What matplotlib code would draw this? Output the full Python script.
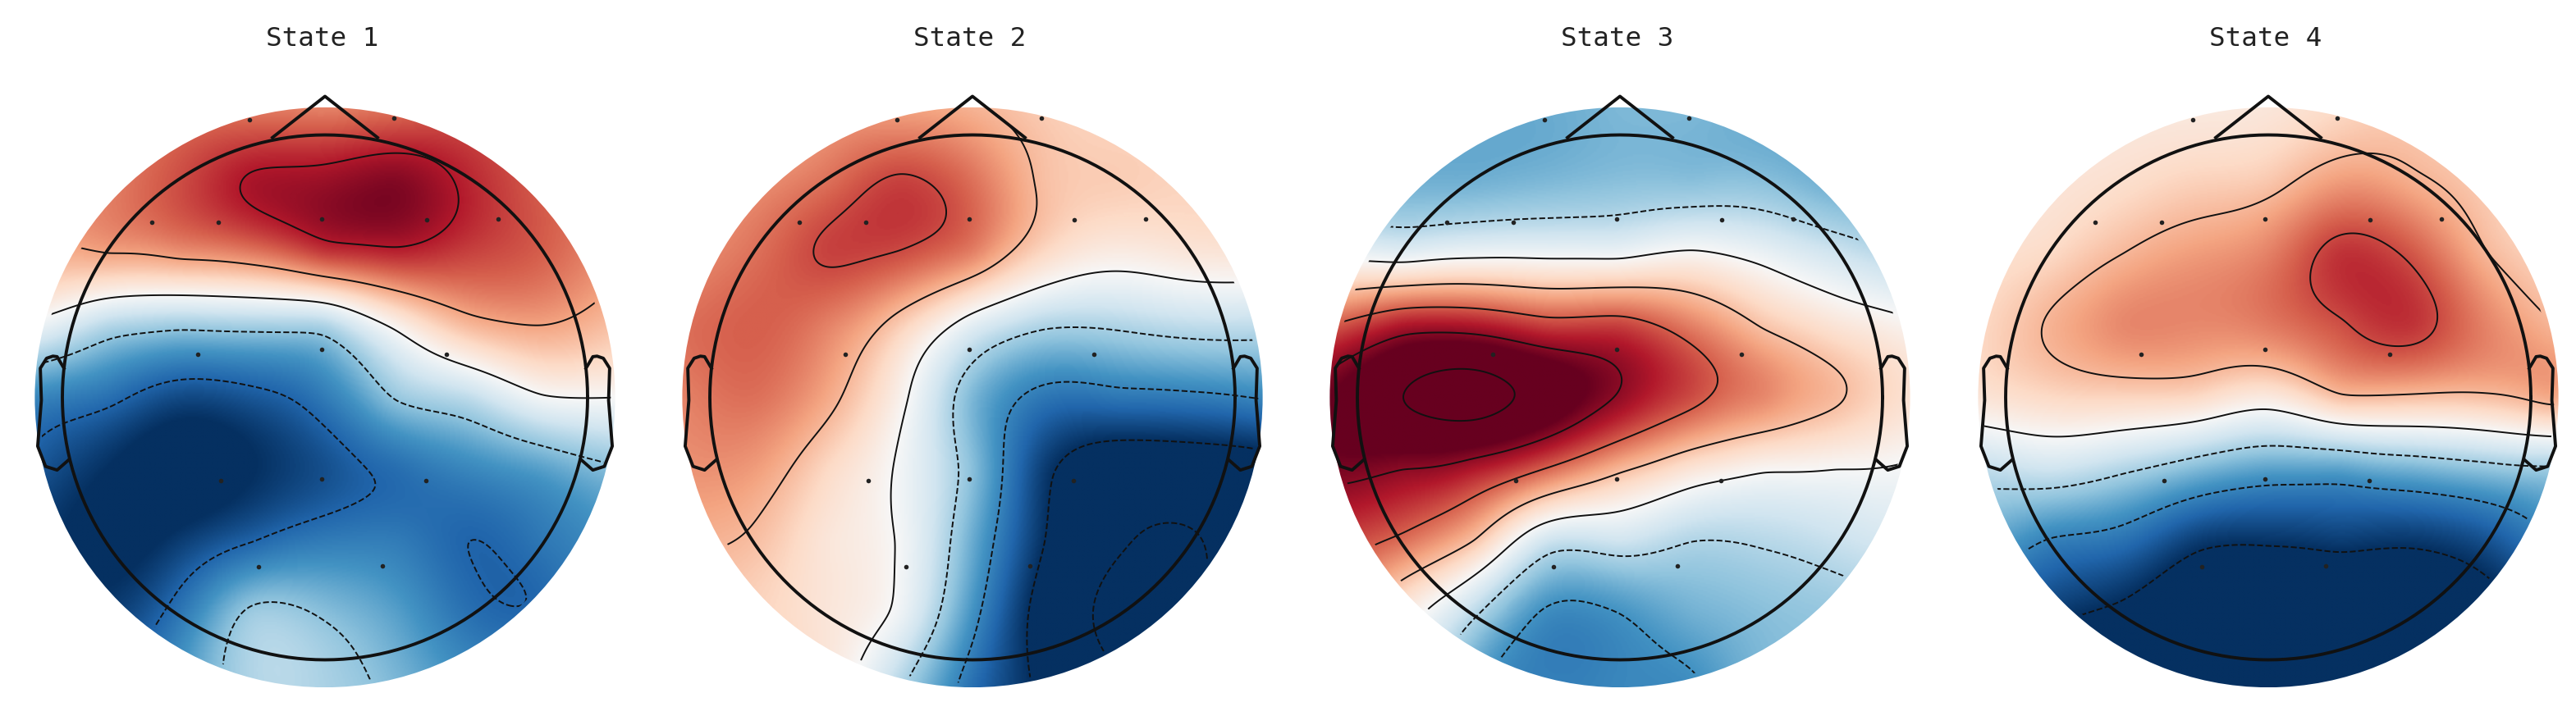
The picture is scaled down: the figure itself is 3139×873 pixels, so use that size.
import matplotlib
matplotlib.use("Agg")
import matplotlib.pyplot as plt
import numpy as np
from matplotlib.patches import Circle

WIDTH, HEIGHT = 3139, 873
TITLES = ["State 1", "State 2", "State 3", "State 4"]
CENTERS_X = [396, 1185, 1974, 2764]
CENTER_Y = 484.5
RADIUS_X, RADIUS_Y = 320, 320
SCALP_R = 1.105

SENSOR_X = [-0.288, 0.264, -0.66, -0.405, -0.011, 0.389, 0.659, -0.483, -0.011, 0.464,
            -0.397, -0.013, 0.384, -0.253, 0.219]
SENSOR_Y = [1.057, 1.064, 0.668, 0.668, 0.68, 0.677, 0.68, 0.165, 0.183, 0.165,
            -0.317, -0.31, -0.317, -0.645, -0.643]

GRID_X = [-1.1, -0.825, -0.55, -0.275, 0.0, 0.275, 0.55, 0.825, 1.1]
GRID_Y = [1.1, 0.825, 0.55, 0.275, 0.0, -0.275, -0.55, -0.825, -1.1]

STATE_1 = [
    [0.35, 0.45, 0.52, 0.52, 0.50, 0.55, 0.60, 0.55, 0.45],
    [0.40, 0.50, 0.65, 0.82, 0.86, 0.92, 0.76, 0.60, 0.50],
    [0.35, 0.40, 0.45, 0.52, 0.70, 0.76, 0.68, 0.60, 0.45],
    [-0.05, -0.28, -0.35, -0.33, -0.30, 0.05, 0.33, 0.40, 0.30],
    [-0.65, -0.75, -0.90, -0.85, -0.70, -0.38, -0.25, -0.02, 0.00],
    [-0.85, -1.00, -1.10, -1.00, -0.88, -0.76, -0.65, -0.55, -0.42],
    [-0.95, -1.05, -0.95, -0.80, -0.70, -0.70, -0.80, -0.72, -0.60],
    [-0.90, -0.95, -0.72, -0.36, -0.42, -0.55, -0.75, -0.78, -0.60],
    [-0.85, -0.80, -0.58, -0.30, -0.32, -0.45, -0.60, -0.60, -0.55],
]
STATE_2 = [
    [0.25, 0.30, 0.40, 0.40, 0.35, 0.25, 0.20, 0.20, 0.15],
    [0.40, 0.45, 0.55, 0.68, 0.55, 0.30, 0.25, 0.22, 0.20],
    [0.45, 0.55, 0.68, 0.65, 0.50, 0.20, 0.08, 0.12, 0.12],
    [0.55, 0.60, 0.50, 0.25, -0.10, -0.30, -0.30, -0.25, -0.25],
    [0.50, 0.55, 0.38, 0.05, -0.45, -0.72, -0.72, -0.70, -0.65],
    [0.45, 0.42, 0.20, -0.03, -0.42, -0.95, -1.15, -1.15, -1.10],
    [0.35, 0.30, 0.12, -0.02, -0.50, -1.00, -1.30, -1.35, -1.20],
    [0.25, 0.22, 0.12, -0.05, -0.60, -1.10, -1.40, -1.35, -1.20],
    [0.20, 0.20, 0.10, -0.30, -0.75, -1.05, -1.30, -1.30, -1.20],
]
STATE_3 = [
    [-0.50, -0.50, -0.50, -0.50, -0.45, -0.45, -0.50, -0.50, -0.50],
    [-0.45, -0.48, -0.48, -0.45, -0.42, -0.42, -0.42, -0.50, -0.50],
    [-0.05, -0.10, -0.05, -0.05, -0.05, 0.02, -0.07, -0.20, -0.30],
    [0.60, 0.80, 0.80, 0.68, 0.68, 0.50, 0.28, 0.13, 0.03],
    [1.00, 1.20, 1.28, 1.12, 0.88, 0.65, 0.48, 0.32, 0.15],
    [0.95, 0.90, 0.80, 0.58, 0.33, 0.13, 0.02, 0.00, -0.02],
    [0.70, 0.55, 0.28, -0.20, -0.20, -0.30, -0.28, -0.22, -0.15],
    [0.50, 0.10, -0.28, -0.63, -0.60, -0.48, -0.42, -0.38, -0.30],
    [0.30, 0.05, -0.55, -0.68, -0.65, -0.62, -0.45, -0.40, -0.30],
]
STATE_4 = [
    [0.15, 0.12, 0.10, 0.10, 0.12, 0.20, 0.25, 0.20, 0.15],
    [0.12, 0.13, 0.17, 0.23, 0.27, 0.42, 0.36, 0.25, 0.15],
    [0.15, 0.20, 0.33, 0.42, 0.50, 0.72, 0.62, 0.34, 0.20],
    [0.20, 0.35, 0.48, 0.48, 0.52, 0.64, 0.72, 0.50, 0.33],
    [0.13, 0.20, 0.22, 0.20, 0.10, 0.30, 0.30, 0.30, 0.38],
    [-0.25, -0.20, -0.30, -0.44, -0.54, -0.54, -0.47, -0.40, -0.35],
    [-0.50, -0.68, -0.75, -0.95, -0.98, -0.95, -0.97, -0.88, -0.65],
    [-0.80, -0.95, -1.05, -1.20, -1.25, -1.25, -1.20, -1.10, -0.95],
    [-1.00, -1.20, -1.30, -1.30, -1.30, -1.30, -1.30, -1.20, -1.10],
]
STATES = [STATE_1, STATE_2, STATE_3, STATE_4]

LEVELS_1 = [-0.8, -0.4, 0.0, 0.4, 0.8]
LEVELS_2 = [-1.33, -1.0, -0.66, -0.33, 0.0, 0.33, 0.66]
LEVELS_3 = [-0.6, -0.3, 0.0, 0.3, 0.6, 0.9, 1.2]
LEVELS_4 = [-1.0, -0.66, -0.33, 0.0, 0.33, 0.66]
LEVELS = [LEVELS_1, LEVELS_2, LEVELS_3, LEVELS_4]

EAR_X = [0.994, 1.02, 1.036, 1.06, 1.084, 1.08, 1.094, 1.064, 1.02, 0.978]
EAR_Y = [0.111, 0.155, 0.157, 0.149, 0.111, -0.011, -0.186, -0.263, -0.277, -0.24]
NOSE_X = [-0.2, 0.0, 0.2]
NOSE_Y = [0.99, 1.147, 0.99]


def tps_kernel(r):
    out = np.zeros_like(r)
    mask = r > 0
    out[mask] = r[mask] ** 2 * np.log(r[mask])
    return out


def smooth_field(values, xx, yy):
    # thin plate spline through the values
    px, py = np.meshgrid(GRID_X, GRID_Y)
    px, py, v = px.ravel(), py.ravel(), np.asarray(values, dtype=float).ravel()
    n = len(v)
    K = tps_kernel(np.hypot(px[:, None] - px[None, :], py[:, None] - py[None, :]))
    P = np.column_stack((np.ones(n), px, py))
    A = np.block([[K, P], [P.T, np.zeros((3, 3))]])
    w = np.linalg.solve(A, np.concatenate((v, np.zeros(3))))
    r = np.hypot(xx[..., None] - px, yy[..., None] - py)
    return tps_kernel(r) @ w[:n] + w[n] + w[n + 1] * xx + w[n + 2] * yy


def draw_head(ax):
    theta = np.linspace(0, 2 * np.pi, 361)
    style = dict(color="#111111", lw=2.8, clip_on=False, zorder=5)
    ax.plot(np.cos(theta), np.sin(theta), **style)
    ax.plot(NOSE_X, NOSE_Y, **style)
    ax.plot(EAR_X, EAR_Y, **style)
    ax.plot(-np.asarray(EAR_X), EAR_Y, **style)


def draw_state(fig, index):
    half_x, half_y = 1.2, 1.2
    left = (CENTERS_X[index] - half_x * RADIUS_X) / WIDTH
    bottom = 1 - (CENTER_Y + half_y * RADIUS_Y) / HEIGHT
    ax = fig.add_axes([left, bottom, 2 * half_x * RADIUS_X / WIDTH, 2 * half_y * RADIUS_Y / HEIGHT])
    ax.set_xlim(-half_x, half_x)
    ax.set_ylim(-half_y, half_y)
    ax.axis("off")

    axis = np.linspace(-SCALP_R, SCALP_R, 400)
    xx, yy = np.meshgrid(axis, axis)
    field = smooth_field(STATES[index], xx, yy)

    im = ax.imshow(field, origin="lower", extent=(-SCALP_R, SCALP_R, -SCALP_R, SCALP_R),
                   cmap="RdBu_r", vmin=-1, vmax=1, aspect="auto", interpolation="bilinear")
    im.set_clip_path(Circle((0, 0), SCALP_R, transform=ax.transData))

    levels = LEVELS[index]
    lines = ax.contour(xx, yy, field, levels=levels, colors="#111111", linewidths=1.4,
                       linestyles=["--" if level < 0 else "-" for level in levels])
    lines.set_clip_path(Circle((0, 0), SCALP_R * 0.985, transform=ax.transData))

    ax.scatter(SENSOR_X, SENSOR_Y, s=16, c="#222222", linewidths=0, zorder=4)
    draw_head(ax)

    fig.text((CENTERS_X[index] - 3) / WIDTH, 1 - 47 / HEIGHT, TITLES[index], ha="center", va="center",
             family="DejaVu Sans Mono", fontsize=23.4, color="#222222")


def main():
    fig = plt.figure(figsize=(WIDTH / 100, HEIGHT / 100), dpi=100)
    for index in range(len(STATES)):
        draw_state(fig, index)
    fig.savefig("out.png", dpi=100)


main()
